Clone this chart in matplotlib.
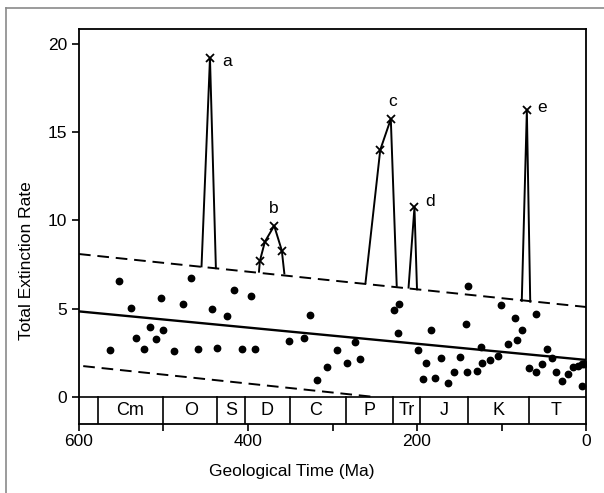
import numpy as np
import matplotlib.pyplot as plt
from matplotlib.lines import Line2D

plt.rcParams['font.family'] = ['Liberation Sans', 'DejaVu Sans']

# Datos: tasa de extincion de fondo (puntos)
bg_age = [552.9, 467.5, 503, 477.3, 538.8, 443, 424.5, 416.2, 396, 515.6,
          500.2, 532.2, 508.9, 563, 522.7, 488, 458.8, 436.7, 406.7, 391.4,
          327, 351.5, 334, 294.3, 273.7, 267.5, 282.5, 306.5, 318.7, 221.7,
          227.6, 222.5, 198.5, 139.6, 100.2, 59.5, 183.4, 142.4, 84, 76.1,
          81.7, 92.3, 189, 171.6, 148.7, 123.9, 122.7, 113.6, 104.5, 192.5,
          178.3, 163.7, 155.8, 140.4, 129, 67.5, 58.8, 52.4, 46.2, 40.6,
          35.1, 28, 20.9, 15, 9.8, 5.1, 2, 4.4]
bg_rate = [6.59, 6.74, 5.63, 5.27, 5.04, 4.97, 4.59, 6.04, 5.72, 3.98,
           3.81, 3.32, 3.29, 2.64, 2.70, 2.61, 2.74, 2.80, 2.74, 2.74,
           4.65, 3.15, 3.36, 2.66, 3.12, 2.15, 1.95, 1.72, 0.98, 5.29,
           4.95, 3.64, 2.66, 6.31, 5.23, 4.70, 3.78, 4.15, 4.46, 3.80,
           3.23, 3.02, 1.93, 2.19, 2.27, 2.85, 1.95, 2.10, 2.34, 1.00,
           1.10, 0.81, 1.40, 1.42, 1.45, 1.66, 1.40, 1.89, 2.70, 2.19,
           1.40, 0.89, 1.28, 1.68, 1.77, 1.85, 1.87, 0.62]

# Lineas de tendencia (extremos)
trend_age = [600, 0]
trend_rate = [4.85, 2.1]
upper_age = [600, 0]
upper_rate = [8.1, 5.1]
lower_age = [595, 250]
lower_rate = [1.75, 0.0]

# Extinciones masivas (picos)
peak_a_age = [455, 445, 438]
peak_a_rate = [7.4, 19.2, 7.3]
peak_b_age = [387, 386, 380, 369, 360, 357]
peak_b_rate = [7.1, 7.7, 8.8, 9.7, 8.3, 7.0]
peak_c_age = [261, 243.5, 231, 224]
peak_c_rate = [6.45, 14.0, 15.75, 6.3]
peak_d_age = [210, 203, 200]
peak_d_rate = [6.2, 10.75, 6.1]
peak_e_age = [76, 70, 66]
peak_e_rate = [5.45, 16.25, 5.4]

mark_b_age = [386, 380, 369, 360]
mark_b_rate = [7.7, 8.8, 9.7, 8.3]
mark_c_age = [243.5, 231]
mark_c_rate = [14.0, 15.75]

# Periodos geologicos
period_edges = [578, 500, 437, 404, 350, 284, 228, 196, 140, 68]
period_names = ['Cm', 'O', 'S', 'D', 'C', 'P', 'Tr', 'J', 'K', 'T']
period_mid = [540, 467, 420, 377, 320, 256, 212, 168, 104, 35]

fig = plt.figure(figsize=(6.04, 4.93), dpi=100)
ax = fig.add_axes([79/604, 1 - 424/493, 507/604, 395/493])

# marco gris exterior
fig.add_artist(Line2D([6/604, 6/604], [0, 1 - 8/493], transform=fig.transFigure,
                      color='#8a8a8a', lw=1.2))
fig.add_artist(Line2D([6/604, 1], [1 - 8/493, 1 - 8/493], transform=fig.transFigure,
                      color='#8a8a8a', lw=1.2))

ax.plot(bg_age, bg_rate, 'o', color='black', ms=4.6, zorder=3)

ax.plot(trend_age, trend_rate, color='black', lw=1.7)
ax.plot(upper_age, upper_rate, color='black', lw=1.4, dashes=(6, 3.5))
ax.plot(lower_age, lower_rate, color='black', lw=1.4, dashes=(6, 3.5))

peaks = [(peak_a_age, peak_a_rate), (peak_b_age, peak_b_rate),
         (peak_c_age, peak_c_rate), (peak_d_age, peak_d_rate),
         (peak_e_age, peak_e_rate)]
for px, py in peaks:
    ax.plot(px, py, color='black', lw=1.4)

mk = dict(marker='x', color='black', ms=5.5, mew=1.3, ls='none')
ax.plot([peak_a_age[1]], [peak_a_rate[1]], **mk)
ax.plot(mark_b_age, mark_b_rate, **mk)
ax.plot(mark_c_age, mark_c_rate, **mk)
ax.plot([peak_d_age[1]], [peak_d_rate[1]], **mk)
ax.plot([peak_e_age[1]], [peak_e_rate[1]], **mk)

lab = dict(textcoords='offset points', fontsize=12.5, va='center')
ax.annotate('a', (peak_a_age[1], peak_a_rate[1]), xytext=(9, -2.5), ha='left', **lab)
ax.annotate('b', (369, 9.7), xytext=(0, 12.5), ha='center', **lab)
ax.annotate('c', (231, 15.75), xytext=(1.5, 12.5), ha='center', **lab)
ax.annotate('d', (peak_d_age[1], peak_d_rate[1]), xytext=(8, 4.5), ha='left', **lab)
ax.annotate('e', (peak_e_age[1], peak_e_rate[1]), xytext=(7.5, 2), ha='left', **lab)

# barra de periodos
ax.axhline(0, color='black', lw=1.2)
for e in period_edges:
    ax.plot([e, e], [-1.53, 0], color='black', lw=1.2)
for name, m in zip(period_names, period_mid):
    ax.text(m, -0.78, name, ha='center', va='center', fontsize=13)

ax.set_xlim(600, 0)
ax.set_ylim(-1.53, 20.85)
ax.set_yticks([0, 5, 10, 15, 20])
ax.set_xticks([600, 500, 400, 300, 200, 100, 0])
ax.set_xticklabels(['600', '', '400', '', '200', '', '0'])
ax.tick_params(axis='both', direction='out', length=5, width=1.2,
               labelsize=12.5, colors='black')
ax.tick_params(axis='x', pad=2)
for s in ax.spines.values():
    s.set_linewidth(1.3)

ax.set_ylabel('Total Extinction Rate', fontsize=12.5)
ax.set_xlabel('Geological Time (Ma)', fontsize=12.5)
ax.yaxis.set_label_coords(-0.089, 0.413)
ax.xaxis.set_label_coords(0.42, -0.101)

fig.savefig('out.png', dpi=100)
